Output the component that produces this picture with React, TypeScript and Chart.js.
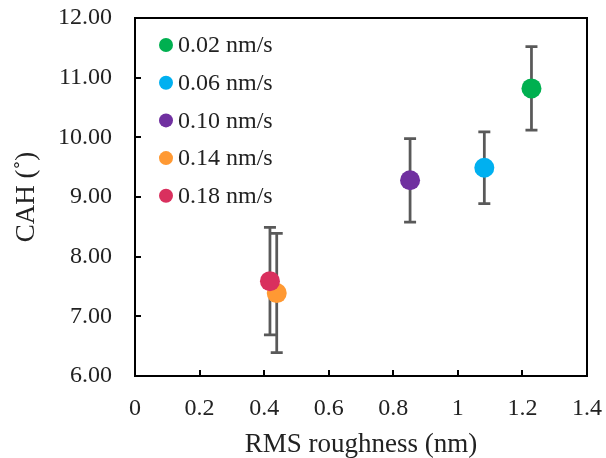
import React, { useEffect, useRef } from 'react';
import { Chart, registerables } from 'chart.js';

Chart.register(...registerables);

const seriesLabels = ['0.02 nm/s', '0.06 nm/s', '0.10 nm/s', '0.14 nm/s', '0.18 nm/s'];
const seriesColors = ['#00B050', '#00B0F0', '#7030A0', '#FF9933', '#D9305E'];
const roughness = [1.228, 1.082, 0.852, 0.439, 0.418];
const cah = [10.82, 9.49, 9.28, 7.39, 7.59];
const cahError = [0.7, 0.6, 0.7, 1.0, 0.9];
const drawOrder = [1, 2, 3, 4, 0];

const xTicks = [0, 0.2, 0.4, 0.6, 0.8, 1, 1.2, 1.4];
const yTicks = [6, 7, 8, 9, 10, 11, 12];

const FONT = "'Liberation Serif', 'Times New Roman', serif";

const framePlugin = {
  id: 'frameAndErrors',
  beforeDatasetsDraw(chart: any) {
    const { ctx, chartArea, scales } = chart;
    const xs = scales.x;
    const ys = scales.y;
    ctx.save();
    ctx.strokeStyle = '#595959';
    ctx.lineWidth = 2.75;
    for (let i = 0; i < roughness.length; i++) {
      const px = xs.getPixelForValue(roughness[i]);
      const top = ys.getPixelForValue(cah[i] + cahError[i]);
      const bot = ys.getPixelForValue(cah[i] - cahError[i]);
      ctx.beginPath();
      ctx.moveTo(px, top);
      ctx.lineTo(px, bot);
      ctx.moveTo(px - 6, top);
      ctx.lineTo(px + 6, top);
      ctx.moveTo(px - 6, bot);
      ctx.lineTo(px + 6, bot);
      ctx.stroke();
    }
    ctx.strokeStyle = '#000';
    ctx.lineWidth = 2;
    ctx.strokeRect(chartArea.left, chartArea.top, chartArea.right - chartArea.left, chartArea.bottom - chartArea.top);
    ctx.beginPath();
    for (const t of xTicks) {
      const px = Math.round(xs.getPixelForValue(t));
      ctx.moveTo(px, chartArea.bottom);
      ctx.lineTo(px, chartArea.bottom - 6);
    }
    for (const t of yTicks) {
      const py = Math.round(ys.getPixelForValue(t));
      ctx.moveTo(chartArea.left, py);
      ctx.lineTo(chartArea.left + 6, py);
    }
    ctx.stroke();
    ctx.restore();
  },
  afterDraw(chart: any) {
    const { ctx } = chart;
    ctx.save();
    ctx.font = `24px ${FONT}`;
    ctx.textBaseline = 'middle';
    ctx.textAlign = 'left';
    for (let i = 0; i < seriesLabels.length; i++) {
      const y = 45 + i * 37.7;
      ctx.fillStyle = seriesColors[i];
      ctx.beginPath();
      ctx.arc(166, y, 7, 0, Math.PI * 2);
      ctx.fill();
      ctx.fillStyle = '#222';
      ctx.fillText(seriesLabels[i], 178, y + 1);
    }
    ctx.restore();
  },
};

const zeroPad = (s: any) => {
  s.paddingTop = 0;
  s.paddingBottom = 0;
  s.paddingLeft = 0;
  s.paddingRight = 0;
};

export default function App() {
  const ref = useRef<HTMLCanvasElement>(null);
  useEffect(() => {
    if (!ref.current) return;
    const chart = new Chart(ref.current, {
      type: 'scatter',
      data: {
        datasets: seriesLabels.map((label, i) => ({
          label,
          data: [{ x: roughness[i], y: cah[i] }],
          backgroundColor: seriesColors[i],
          borderColor: seriesColors[i],
          pointRadius: 10,
          pointBorderWidth: 0,
          order: drawOrder[i],
        })),
      },
      options: {
        animation: false,
        responsive: false,
        devicePixelRatio: 1,
        layout: { padding: { top: 18, right: 19, left: 0, bottom: 0 } },
        plugins: { legend: { display: false }, tooltip: { enabled: false } },
        scales: {
          x: {
            type: 'linear',
            min: 0,
            max: 1.4,
            afterBuildTicks: (s: any) => { s.ticks = xTicks.map((v) => ({ value: v })); },
            afterFit: (s: any) => { s.height = 82; zeroPad(s); },
            grid: { display: false },
            border: { display: false },
            ticks: {
              color: '#222',
              font: { family: FONT, size: 24 },
              padding: 10,
              callback: (v: any) => String(Number(v)),
            },
            title: {
              display: true,
              text: 'RMS roughness (nm)',
              color: '#222',
              font: { family: FONT, size: 27, lineHeight: 1.0 },
              padding: { top: 0, bottom: 0 },
            },
          },
          y: {
            type: 'linear',
            min: 6,
            max: 12,
            afterBuildTicks: (s: any) => { s.ticks = yTicks.map((v) => ({ value: v })); },
            afterFit: (s: any) => { s.width = 135; zeroPad(s); },
            grid: { display: false },
            border: { display: false },
            ticks: {
              color: '#222',
              font: { family: FONT, size: 24 },
              padding: 15,
              callback: (v: any) => Number(v).toFixed(2),
            },
            title: {
              display: true,
              text: 'CAH (˚)',
              color: '#222',
              font: { family: FONT, size: 27 },
              padding: { top: 11, bottom: 0 },
            },
          },
        },
      },
      plugins: [framePlugin],
    });
    return () => chart.destroy();
  }, []);
  return (
    <div style={{ position: 'absolute', left: 0, top: 0, width: 606, height: 458 }}>
      <canvas ref={ref} width={606} height={458} />
    </div>
  );
}
